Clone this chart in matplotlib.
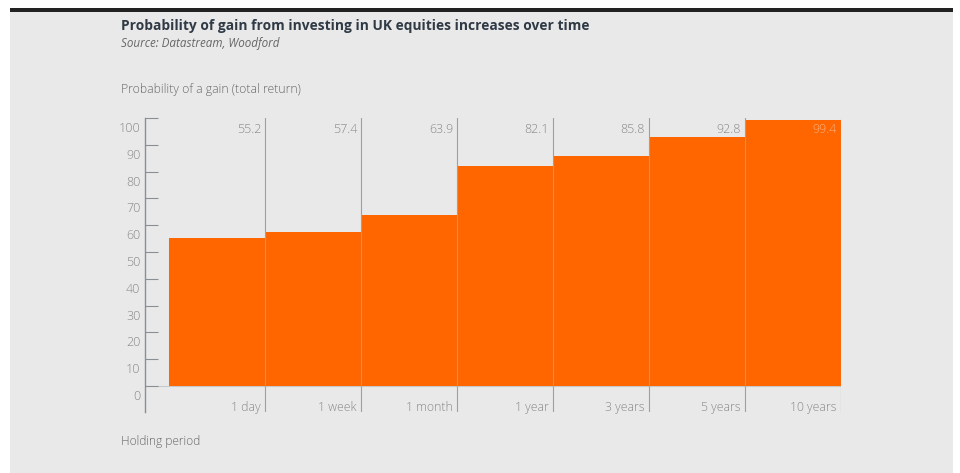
import matplotlib
matplotlib.use("Agg")
import matplotlib.pyplot as plt
from matplotlib.patches import Rectangle
from matplotlib.transforms import ScaledTranslation

categories = ["1 day", "1 week", "1 month", "1 year", "3 years", "5 years", "10 years"]
values = [55.2, 57.4, 63.9, 82.1, 85.8, 92.8, 99.4]
yticks = [0, 10, 20, 30, 40, 50, 60, 70, 80, 90, 100]

W, H = 960, 473
plt.rcParams['font.family'] = ['Open Sans', 'DejaVu Sans']
fig = plt.figure(figsize=(W / 100, H / 100), dpi=100)
fig.patch.set_facecolor('white')

def fx(px):
    return px / W

def fy(py):
    return 1 - py / H

# background panel and top bar
fig.patches.append(Rectangle((fx(10), 0), fx(953) - fx(10), fy(12), transform=fig.transFigure,
                             facecolor='#e9e9e9', edgecolor='none', zorder=-10))
fig.patches.append(Rectangle((fx(10), fy(12)), fx(953) - fx(10), fy(8) - fy(12), transform=fig.transFigure,
                             facecolor='#222222', edgecolor='none', zorder=-9))

ax = fig.add_axes([fx(145), fy(412), fx(841) - fx(145), fy(118) - fy(412)])
ax.set_facecolor('none')

xs = list(range(len(values)))
ax.bar(xs, values, width=1.0, align='edge', color='#ff6600', edgecolor='none', zorder=2)
ax.set_xlim(-0.25, len(values))
ax.set_ylim(-9.7, 100)

ax.axhline(0, color='#c8c8c8', lw=0.8, zorder=1)
for i in xs:
    ax.axvline(i + 1, color='#a0a0a0', lw=0.8, zorder=3)

for s in ['top', 'right', 'bottom']:
    ax.spines[s].set_visible(False)
ax.spines['left'].set_color('#8a8f96')
ax.spines['left'].set_linewidth(1.0)

ax.set_xticks([])
ax.set_yticks(yticks)
ax.set_yticklabels([str(t) for t in yticks])
ax.tick_params(axis='y', direction='in', length=9.4, width=0.8, color='#8a8f96',
               labelcolor='#888888', labelsize=9, pad=3.4)
off = ScaledTranslation(0, -9 / 100, fig.dpi_scale_trans)
for lab in ax.get_yticklabels():
    lab.set_transform(lab.get_transform() + off)
    lab.set_fontweight('light')

for i, (c, v) in enumerate(zip(categories, values)):
    col = '#f8b48a' if v > 96 else '#888888'
    ax.annotate(f"{v:.1f}", xy=(i + 1, 100), xytext=(-4, -11), textcoords='offset pixels',
                ha='right', va='center', fontsize=9, color=col, fontweight='light', zorder=5)
    ax.annotate(c, xy=(i + 1, -9.7), xytext=(-4, 5), textcoords='offset pixels',
                ha='right', va='center', fontsize=8.8, color='#888888', fontweight='light', zorder=5)

fig.text(fx(121), fy(26), "Probability of gain from investing in UK equities increases over time",
         ha='left', va='center', fontsize=9.9, fontweight='bold', color='#2f3a45')
fig.text(fx(121), fy(44), "Source: Datastream, Woodford", ha='left', va='center',
         fontsize=8.4, style='italic', color='#666666')
fig.text(fx(121), fy(90), "Probability of a gain (total return)", ha='left', va='center',
         fontsize=8.7, color='#666666', fontweight='light')
fig.text(fx(121), fy(441), "Holding period", ha='left', va='center',
         fontsize=8.6, color='#666666', fontweight='light')

fig.savefig("out.png", dpi=100, facecolor=fig.get_facecolor())
